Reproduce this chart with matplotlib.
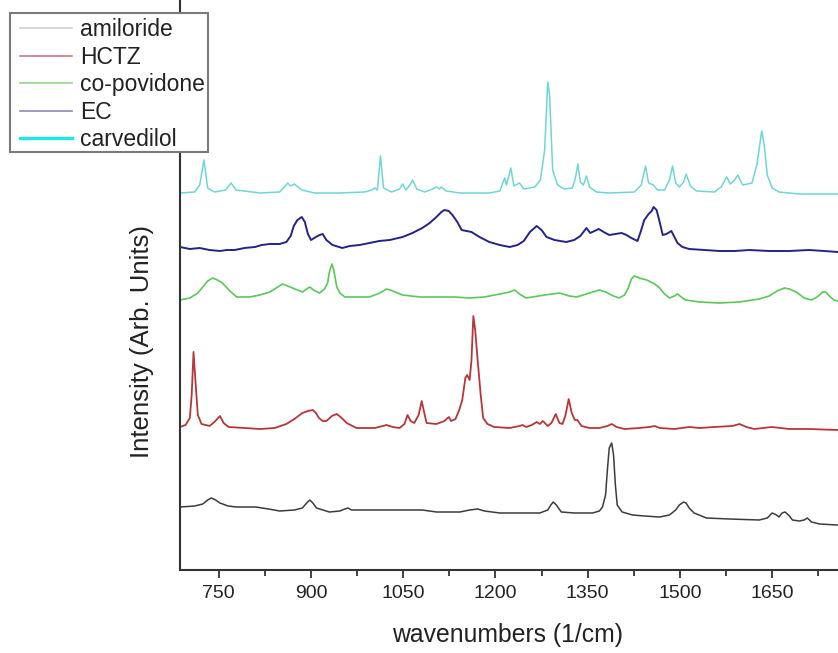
import matplotlib
matplotlib.use("Agg")
import matplotlib.pyplot as plt
from matplotlib.lines import Line2D
from matplotlib.patches import Rectangle
from matplotlib.ticker import MultipleLocator

plt.rcParams["font.family"] = ["Liberation Sans", "DejaVu Sans"]

# Raman spectra (wavenumber in 1/cm, intensity in arbitrary units)
amiloride_wn = [687, 711, 724, 732, 738, 745, 752, 765, 779, 810, 831, 849, 873, 886, 893, 898,
                903, 909, 930, 947, 955, 960, 966, 995, 1044, 1081, 1104, 1142, 1158, 1171, 1182,
                1207, 1272, 1285, 1290, 1294, 1299, 1307, 1328, 1358, 1369, 1374, 1379, 1382, 1385,
                1389, 1392, 1395, 1398, 1406, 1423, 1442, 1467, 1483, 1493, 1499, 1506, 1510, 1515,
                1523, 1543, 1580, 1629, 1642, 1650, 1657, 1661, 1666, 1671, 1678, 1683, 1694, 1702,
                1707, 1714, 1727, 1756]
amiloride_int = [1, 2, 4, 8, 10, 8, 5, 2, 1, 1, -1, -3, -2, 0, 5, 8,
                 5, 0, -4, -3, -1, 0, -2, -2, -2, -2, -4, -4, -2, -1, -3,
                 -5, -5, -2, 3, 6, 3, -4, -5, -5, -3, 1, 13, 38, 60,
                 65, 53, 23, 3, -4, -7, -8, -9, -7, -2, 3, 6, 5, 0,
                 -5, -10, -11, -12, -10, -5, -7, -9, -5, -4, -8, -12, -13, -12,
                 -10, -14, -16, -17]

hctz_wn = [687, 696, 703, 706, 709, 712, 716, 722, 735, 743, 752, 758, 766, 792, 817, 841, 860,
           873, 886, 895, 903, 908, 913, 919, 925, 934, 942, 950, 958, 974, 1004, 1023, 1033,
           1044, 1052, 1057, 1062, 1068, 1075, 1080, 1085, 1088, 1104, 1117, 1124, 1128, 1135,
           1141, 1146, 1151, 1154, 1158, 1161, 1164, 1167, 1171, 1176, 1180, 1187, 1198, 1223,
           1239, 1244, 1250, 1259, 1267, 1272, 1277, 1285, 1291, 1298, 1304, 1309, 1314, 1319,
           1324, 1329, 1333, 1340, 1353, 1369, 1382, 1389, 1397, 1410, 1434, 1450, 1459, 1467,
           1491, 1515, 1532, 1556, 1585, 1597, 1608, 1621, 1649, 1678, 1710, 1756]
hctz_int = [1, 3, 10, 33, 76, 48, 13, 4, 2, 6, 12, 5, 1, 0, -1, 0, 4,
            9, 15, 17, 18, 15, 10, 7, 7, 12, 14, 10, 5, 0, 0, 3, 1,
            0, 4, 13, 7, 5, 13, 27, 13, 5, 4, 7, 11, 7, 9,
            18, 28, 50, 53, 48, 68, 112, 98, 68, 33, 10, 4, 1, 0,
            2, 3, 1, 3, 6, 4, 7, 2, 5, 14, 5, 4, 13, 29,
            15, 8, 8, 2, 0, 0, 2, 4, 1, -1, 0, 1, 2, 0,
            -1, 1, 0, 1, 2, 4, 1, -1, 1, -1, -1, -2]

copovidone_wn = [687, 703, 716, 724, 732, 740, 748, 756, 768, 779, 800, 817, 833, 846, 854, 862,
                 870, 882, 886, 893, 898, 904, 914, 922, 927, 930, 934, 937, 942, 947, 955, 979,
                 995, 1012, 1023, 1033, 1049, 1077, 1104, 1133, 1158, 1182, 1207, 1223, 1231, 1239,
                 1250, 1280, 1304, 1320, 1332, 1353, 1369, 1379, 1392, 1401, 1410, 1416, 1421, 1426,
                 1434, 1446, 1459, 1467, 1475, 1483, 1491, 1496, 1502, 1509, 1532, 1564, 1597, 1629,
                 1645, 1658, 1670, 1678, 1689, 1702, 1714, 1723, 1732, 1737, 1743, 1750, 1756]
copovidone_int = [0, 2, 7, 13, 19, 22, 20, 17, 9, 3, 3, 5, 8, 13, 16, 14,
                  12, 9, 8, 11, 13, 10, 7, 11, 17, 28, 36, 30, 13, 7, 3, 3,
                  3, 7, 11, 9, 5, 3, 3, 3, 2, 3, 6, 8, 10, 6,
                  2, 5, 7, 4, 3, 7, 10, 8, 4, 2, 5, 12, 21, 24,
                  22, 20, 16, 12, 6, 2, 4, 6, 3, 0, -2, -3, -2, 1,
                  4, 9, 12, 11, 8, 2, 0, 3, 8, 8, 4, 0, -1]

ec_wn = [687, 703, 719, 735, 752, 763, 776, 792, 809, 820, 833, 849, 860, 867, 872, 878, 885,
         890, 895, 900, 908, 914, 919, 925, 935, 951, 963, 979, 995, 1011, 1028, 1049, 1065,
         1081, 1093, 1104, 1112, 1117, 1124, 1130, 1138, 1145, 1153, 1161, 1174, 1190, 1207,
         1223, 1236, 1246, 1256, 1267, 1275, 1283, 1296, 1315, 1328, 1338, 1348, 1354, 1361,
         1368, 1376, 1385, 1395, 1405, 1413, 1421, 1431, 1436, 1442, 1449, 1454, 1457, 1462,
         1467, 1472, 1478, 1486, 1491, 1496, 1504, 1515, 1540, 1564, 1589, 1613, 1645, 1678,
         1710, 1735, 1756]
ec_int = [5, 3, 4, 2, 1, 2, 2, 4, 5, 7, 8, 8, 10, 16, 26, 32, 35,
          30, 18, 12, 15, 17, 18, 12, 7, 4, 6, 7, 9, 11, 12, 15, 19,
          24, 29, 35, 40, 42, 41, 37, 30, 22, 21, 20, 15, 10, 7,
          5, 7, 11, 20, 26, 22, 15, 12, 10, 12, 16, 24, 19, 21,
          23, 20, 17, 18, 19, 17, 14, 11, 20, 32, 38, 41, 45, 42,
          30, 17, 18, 21, 15, 9, 5, 3, 2, 1, 1, 2, 1, 1,
          2, 1, 0]

carvedilol_wn = [687, 711, 719, 726, 732, 743, 761, 770, 778, 792, 817, 849, 857, 862, 867, 873,
                 885, 906, 947, 987, 999, 1004, 1008, 1013, 1018, 1031, 1044, 1049, 1054, 1060,
                 1065, 1072, 1085, 1098, 1104, 1109, 1112, 1120, 1142, 1190, 1207, 1212, 1215,
                 1218, 1225, 1230, 1239, 1246, 1264, 1273, 1280, 1285, 1288, 1293, 1301, 1312,
                 1325, 1330, 1334, 1338, 1343, 1348, 1353, 1364, 1385, 1426, 1437, 1444, 1449,
                 1457, 1463, 1475, 1483, 1488, 1493, 1499, 1506, 1510, 1517, 1527, 1556, 1567,
                 1576, 1582, 1589, 1594, 1602, 1617, 1625, 1633, 1637, 1642, 1650, 1661, 1694, 1756]
carvedilol_int = [0, 1, 8, 33, 5, 1, 3, 10, 3, 2, 0, 1, 6, 10, 7, 9,
                  3, 0, 0, 1, 3, 5, 3, 37, 5, 1, 4, 9, 3, 7,
                  13, 4, 1, 4, 6, 4, 6, 2, 0, 0, 2, 10, 15,
                  8, 25, 7, 10, 4, 6, 13, 43, 111, 98, 23, 8, 4,
                  5, 15, 29, 11, 8, 17, 6, 1, 0, 1, 8, 27, 10,
                  8, 3, 3, 13, 27, 10, 6, 11, 19, 7, 2, 1, 6,
                  16, 9, 13, 18, 8, 10, 28, 62, 48, 18, 5, 1, -1, -1]

names = ["amiloride", "HCTZ", "co-povidone", "EC", "carvedilol"]
offsets = [62, 142, 270, 318, 377]
line_colors = ["#3c3c3c", "#b8363a", "#5ac85a", "#23238a", "#6fd6d6"]
line_widths = [1.1, 1.3, 1.2, 1.4, 1.1]
legend_colors = ["#cfcfcf", "#c87a80", "#8fd98f", "#8a8ab0", "#1ee6ea"]
legend_widths = [1.2, 1.2, 1.2, 1.2, 2.4]

spectra = [
    (amiloride_wn, amiloride_int),
    (hctz_wn, hctz_int),
    (copovidone_wn, copovidone_int),
    (ec_wn, ec_int),
    (carvedilol_wn, carvedilol_int),
]

W, H = 838, 653
fig = plt.figure(figsize=(W / 100, H / 100), dpi=100)
ax = fig.add_axes([180 / W, 83 / H, 658 / W, 570 / H])

for (wn, inten), off, col, lw in zip(spectra, offsets, line_colors, line_widths):
    ax.plot(wn, [v + off for v in inten], color=col, lw=lw)

ax.set_xlim(687, 1757)
ax.set_ylim(0, 570)
ax.xaxis.set_major_locator(MultipleLocator(150))
ax.xaxis.set_minor_locator(MultipleLocator(75))
ax.set_yticks([])
for side in ("top", "right"):
    ax.spines[side].set_visible(False)
for side in ("left", "bottom"):
    ax.spines[side].set_color("#333333")
    ax.spines[side].set_linewidth(1.5)
ax.tick_params(axis="x", which="major", length=6, width=1.3, color="#333333",
               labelsize=14, pad=5, labelcolor="#222222")
ax.tick_params(axis="x", which="minor", length=4, width=1.3, color="#333333")

ax.set_xlabel("wavenumbers (1/cm)", fontsize=17.8, color="#222222")
ax.set_ylabel("Intensity (Arb. Units)", fontsize=18.5, color="#222222")
ax.xaxis.set_label_coords(0.498, -0.093)
ax.yaxis.set_label_coords(-0.04, 0.40)

# legend box with a white face, drawn above the axes
frame = Rectangle((10 / W, 1 - 152 / H), 198 / W, 139 / H, transform=fig.transFigure,
                  facecolor="white", edgecolor="#7a7a7a", linewidth=1.5, zorder=4)
fig.add_artist(frame)

handles = [Line2D([], [], color=c, lw=w) for c, w in zip(legend_colors, legend_widths)]
leg = fig.legend(handles, names, loc="upper left", bbox_to_anchor=(20 / W, 1 - 18 / H),
                 fontsize=16.5, frameon=False, handlelength=2.26, handletextpad=0.35,
                 labelspacing=0.2, borderpad=0, borderaxespad=0)
leg.set_zorder(5)
for t in leg.get_texts():
    t.set_color("#222222")

fig.savefig("out.png", dpi=100)
